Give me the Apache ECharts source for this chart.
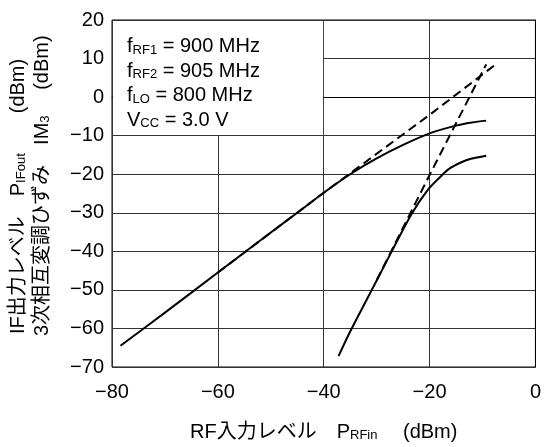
<!DOCTYPE html>
<html>
<head>
<meta charset="utf-8">
<script src="https://cdn.jsdelivr.net/npm/echarts@6/dist/echarts.min.js"></script>
<style>
html,body{margin:0;padding:0;background:#fff;}
#chart{width:544px;height:447px;}
</style>
</head>
<body>
<div id="chart"></div>
<script>
// ---- data ----
const xTicks = [-80, -60, -40, -20, 0];
const yTicks = [-70, -60, -50, -40, -30, -20, -10, 0, 10, 20];

// IF output level (solid)
const ifOutIn    = [-78.4, -70, -60, -50, -45, -40, -35, -30, -25, -20, -15, -12, -9.3];
const ifOutLevel = [-64.5, -55.9, -45.5, -35.1, -30, -24.8, -20, -15.9, -12.4, -9.4, -7.4, -6.6, -6.1];

// extrapolated fundamental (dashed)
const fundDashIn    = [-60, -40, -20, -7.5];
const fundDashLevel = [-45.5, -24.8, -4.6, 8.5];

// 3rd order intermodulation (solid)
const im3In    = [-37.2, -35, -31.1, -27.3, -23.4, -20.3, -18, -16.2, -14, -12.2, -9.3];
const im3Level = [-67.2, -60.8, -50.5, -40.4, -30.3, -24, -20.7, -18.5, -16.9, -16.0, -15.2];

// extrapolated IM3 (dashed)
const im3DashIn    = [-30, -20, -9.3];
const im3DashLevel = [-47.5, -20.2, 8.5];

// blank region of the grid that holds the condition text
const boxX = [-79.8, -40.12];
const boxY = [-9.85, 19.75];

const conditions = [
  ['f', 'RF1', ' = 900 MHz'],
  ['f', 'RF2', ' = 905 MHz'],
  ['f', 'LO', ' = 800 MHz'],
  ['V', 'CC', ' = 3.0 V']
];

const FONT = "'Liberation Sans', Arial, 'Noto Sans CJK JP', sans-serif";
const FS = 20, SFS = 13;
const zip = (a, b) => a.map((v, i) => [v, b[i]]);
const minus = v => String(v).replace('-', '\u2212');

const chart = echarts.init(document.getElementById('chart'), null, {renderer: 'canvas'});

const condText = conditions.map(c => '{n|' + c[0] + '}{s|' + c[1] + '}{n|' + c[2] + '}').join('\n');

const richFill = lh => ({
  n: {fontFamily: FONT, fontSize: FS, fill: '#000', verticalAlign: 'bottom', lineHeight: lh},
  s: {fontFamily: FONT, fontSize: SFS, fill: '#000', verticalAlign: 'bottom', lineHeight: lh}
});

const option = {
  backgroundColor: '#fff',
  animation: false,
  grid: {left: 112, right: 6, top: 20, bottom: 69, show: true, borderColor: '#000', borderWidth: 1, containLabel: false},
  xAxis: {
    type: 'value', min: xTicks[0], max: xTicks[xTicks.length - 1], interval: 20,
    axisLine: {show: true, lineStyle: {color: '#000', width: 1}},
    axisTick: {show: false},
    splitLine: {show: true, lineStyle: {color: '#333', width: 1}},
    axisLabel: {color: '#000', fontFamily: FONT, fontSize: FS, margin: 15, formatter: minus},
    name: '{n|RF入力レベル　P}{s|RFin}{n|　 (dBm)}',
    nameLocation: 'middle', nameGap: 53,
    nameTextStyle: {
      rich: {
        n: {fontFamily: FONT, fontSize: FS, color: '#000', verticalAlign: 'bottom', lineHeight: 22},
        s: {fontFamily: FONT, fontSize: SFS, color: '#000', verticalAlign: 'bottom', lineHeight: 22}
      }
    }
  },
  yAxis: {
    type: 'value', min: yTicks[0], max: yTicks[yTicks.length - 1], interval: 10,
    axisLine: {show: true, lineStyle: {color: '#000', width: 1}},
    axisTick: {show: false},
    splitLine: {show: true, lineStyle: {color: '#333', width: 1}},
    axisLabel: {color: '#000', fontFamily: FONT, fontSize: FS, margin: 8, formatter: minus}
  },
  graphic: [
    {
      type: 'text', x: 127, y: 32, z: 100,
      style: {text: condText, align: 'left', verticalAlign: 'top', rich: richFill(24.5)}
    },
    {
      type: 'text', x: 17, y: 334, rotation: Math.PI / 2, z: 100,
      style: {text: '{n|IF出力レベル　P}{s|IFout}{n|　　(dBm)}', align: 'left', verticalAlign: 'middle', rich: richFill(22)}
    },
    {
      type: 'text', x: 41, y: 336, rotation: Math.PI / 2, z: 100,
      style: {text: '{n|3次相互変調ひずみ　IM}{s|3}{n|　 (dBm)}', align: 'left', verticalAlign: 'middle', rich: richFill(22)}
    }
  ],
  series: [
    {
      type: 'line', data: zip(ifOutIn, ifOutLevel), showSymbol: false, smooth: 0.3,
      lineStyle: {color: '#000', width: 2}, z: 5,
      markArea: {
        silent: true, itemStyle: {color: '#fff', borderWidth: 0},
        data: [[{xAxis: boxX[0], yAxis: boxY[0]}, {xAxis: boxX[1], yAxis: boxY[1]}]]
      }
    },
    {
      type: 'line', data: zip(fundDashIn, fundDashLevel), showSymbol: false,
      lineStyle: {color: '#000', width: 2, type: [9, 5]}, z: 6
    },
    {
      type: 'line', data: zip(im3In, im3Level), showSymbol: false, smooth: 0.3,
      lineStyle: {color: '#000', width: 2}, z: 5
    },
    {
      type: 'line', data: zip(im3DashIn, im3DashLevel), showSymbol: false,
      lineStyle: {color: '#000', width: 2, type: [9, 5]}, z: 6
    }
  ]
};
chart.setOption(option);
</script>
</body>
</html>
